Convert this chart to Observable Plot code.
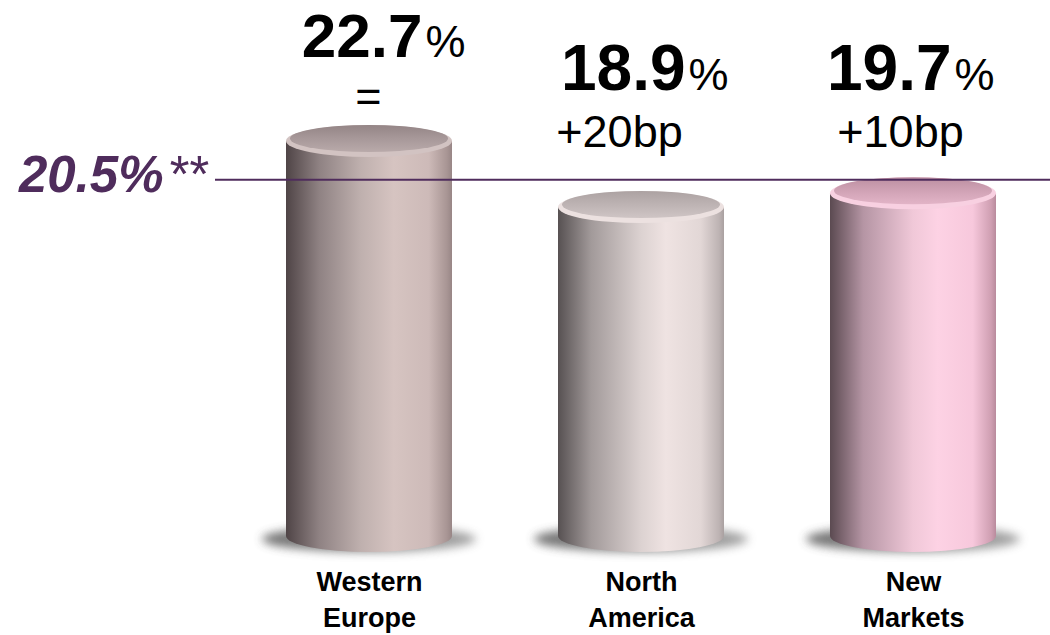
<!DOCTYPE html>
<html>
<head>
<meta charset="utf-8">
<script src="https://cdn.jsdelivr.net/npm/d3@7"></script>
<script src="https://cdn.jsdelivr.net/npm/@observablehq/plot@0.6"></script>
<style>
  html, body { margin: 0; padding: 0; background: #fff; }
  svg { font-family: Arial, "Liberation Sans", sans-serif; }
</style>
</head>
<body>
<div id="chart"></div>
<script>
// ---- data ----
const regions = ["Western Europe", "North America", "New Markets"];
const margins = [22.7, 18.9, 19.7];            // %
const changes = ["=", "+20bp", "+10bp"];
const refValue = 20.5;                          // group average, %
const refLabel = "20.5%";
const refNote = "**";

const data = regions.map((r, i) => ({region: r, value: margins[i], change: changes[i], idx: i}));

// ---- styling (not data) ----
const ids = ["gWE", "gNA", "gNM"];
const bodyStops = [
  [["0%", "#4f4446"], ["20%", "#8f8283"], ["45%", "#bfb0ae"], ["65%", "#d6c4c1"], ["86%", "#cdbab8"], ["97%", "#a89594"], ["100%", "#988686"]],
  [["0%", "#575152"], ["20%", "#a29a9a"], ["50%", "#dcd2d1"], ["65%", "#efe3e2"], ["86%", "#e2d7d6"], ["97%", "#bdb3b3"], ["100%", "#a9a0a0"]],
  [["0%", "#5b4a51"], ["20%", "#b595a4"], ["50%", "#f0c8d8"], ["65%", "#fdd2e4"], ["86%", "#f7c8dc"], ["97%", "#cf9fb2"], ["100%", "#b98b9d"]]
];
const capStops = [
  [["0%", "#948586"], ["55%", "#a99a9b"], ["100%", "#b9aaaa"]],
  [["0%", "#aca2a2"], ["55%", "#bfb5b5"], ["100%", "#cfc5c5"]],
  [["0%", "#bb8fa1"], ["55%", "#d2a4b7"], ["100%", "#e2b4c7"]]
];
const rimColors = ["#d2c3c2", "#ece1e0", "#f8d0e1"];
const numDx = [53, 44, 38];
const subDx = [-1, -22, -13];
const numY = [56, 89, 89];
const numSize = [62, 64, 64];
const subY = [110, 146, 146];
const purple = "#4f2c5c";
const RY = 16;

function bandInfo(scales, dimensions) {
  const x = scales.x;
  let bw = x.bandwidth;
  if (typeof bw === "function") bw = bw();
  if (!(bw > 0)) {
    const n = regions.length;
    const w = dimensions.width - dimensions.marginLeft - dimensions.marginRight;
    bw = w / (n - 0.39) * 0.61;
  }
  return {x, bw};
}

// shadows + gradient definitions
const shadowMark = (index, scales, values, dimensions) => {
  const {x, bw} = bandInfo(scales, dimensions);
  const y = scales.y;
  const g = d3.create("svg:g");
  const defs = g.append("defs");
  const f = defs.append("filter").attr("id", "blur").attr("x", "-30%").attr("y", "-100%").attr("width", "160%").attr("height", "300%");
  f.append("feGaussianBlur").attr("stdDeviation", 5);
  const sg = defs.append("linearGradient").attr("id", "shade").attr("x1", 0).attr("x2", 1).attr("y1", 0).attr("y2", 0);
  [["0%", "#444"], ["50%", "#666"], ["100%", "#888"]].forEach(([o, c]) => sg.append("stop").attr("offset", o).attr("stop-color", c));
  ids.forEach((id, i) => {
    const lg = defs.append("linearGradient").attr("id", id).attr("x1", 0).attr("x2", 1).attr("y1", 0).attr("y2", 0);
    bodyStops[i].forEach(([o, c]) => lg.append("stop").attr("offset", o).attr("stop-color", c));
    const cg = defs.append("linearGradient").attr("id", id + "cap").attr("x1", 0).attr("x2", 0).attr("y1", 0).attr("y2", 1);
    capStops[i].forEach(([o, c]) => cg.append("stop").attr("offset", o).attr("stop-color", c));
  });
  data.forEach(d => {
    const cx = x(d.region) + bw / 2;
    g.append("ellipse")
      .attr("cx", cx).attr("cy", y(0) + 3)
      .attr("rx", bw / 2 + 24).attr("ry", 13)
      .attr("fill", "url(#shade)").attr("opacity", 0.75)
      .attr("filter", "url(#blur)");
  });
  return g.node();
};

// rounded bottom of each cylinder
const bottomMark = (index, scales, values, dimensions) => {
  const {x, bw} = bandInfo(scales, dimensions);
  const y = scales.y;
  const g = d3.create("svg:g");
  data.forEach(d => {
    g.append("ellipse")
      .attr("cx", x(d.region) + bw / 2).attr("cy", y(0))
      .attr("rx", bw / 2).attr("ry", RY)
      .attr("fill", `url(#${ids[d.idx]})`);
  });
  return g.node();
};

// top caps
const capMark = (index, scales, values, dimensions) => {
  const {x, bw} = bandInfo(scales, dimensions);
  const y = scales.y;
  const g = d3.create("svg:g");
  data.forEach(d => {
    const cx = x(d.region) + bw / 2, cy = y(d.value);
    g.append("ellipse").attr("cx", cx).attr("cy", cy)
      .attr("rx", bw / 2).attr("ry", RY).attr("fill", rimColors[d.idx]);
    g.append("ellipse").attr("cx", cx).attr("cy", cy - 2.5)
      .attr("rx", bw / 2 - 4).attr("ry", RY - 2.5).attr("fill", `url(#${ids[d.idx]}cap)`);
  });
  return g.node();
};

const fontFam = "Arial, 'Liberation Sans', sans-serif";
const marks = [
  shadowMark,
  bottomMark,
  ...data.map(d => Plot.barY([d], {x: "region", y: "value", fill: `url(#${ids[d.idx]})`})),
  capMark,
  Plot.ruleY([refValue], {stroke: purple, strokeWidth: 2, insetLeft: -71, insetRight: -54}),
  Plot.text([refValue], {y: d => d, text: () => refLabel, frameAnchor: "left", textAnchor: "end", dx: -123, dy: -4,
    fill: purple, fontSize: 51, fontWeight: "bold", fontStyle: "italic", fontFamily: fontFam}),
  Plot.text([refValue], {y: d => d, text: () => refNote, frameAnchor: "left", textAnchor: "start", dx: -119, dy: -4,
    fill: purple, fontSize: 51, fontStyle: "italic", fontFamily: fontFam}),
  ...data.map(d => Plot.text([d], {x: "region", text: r => r.value.toFixed(1), frameAnchor: "top", lineAnchor: "bottom",
    dy: numY[d.idx], dx: numDx[d.idx], textAnchor: "end", fill: "#000", fontSize: numSize[d.idx], fontWeight: "bold", fontFamily: fontFam})),
  ...data.map(d => Plot.text([d], {x: "region", text: () => "%", frameAnchor: "top", lineAnchor: "bottom",
    dy: numY[d.idx], dx: numDx[d.idx] + 3, textAnchor: "start", fill: "#000", fontSize: 45, fontFamily: fontFam})),
  ...data.map(d => Plot.text([d], {x: "region", text: "change", frameAnchor: "top", lineAnchor: "bottom",
    dy: subY[d.idx], dx: subDx[d.idx], textAnchor: "middle", fill: "#000", fontSize: 45, fontFamily: fontFam})),
  Plot.text(data, {x: "region", text: d => d.region.replace(" ", "\n"), frameAnchor: "bottom", lineAnchor: "top",
    dy: 29, lineHeight: 1.33, fill: "#000", fontSize: 27, fontWeight: "bold", fontFamily: fontFam})
];

const chart = Plot.plot({
  width: 1050,
  height: 635,
  marginLeft: 286,
  marginRight: 54,
  marginTop: 0,
  marginBottom: 99,
  style: {background: "#fff", overflow: "visible"},
  x: {domain: regions, paddingInner: 0.39, paddingOuter: 0, axis: null},
  y: {domain: [0, 30.8], axis: null},
  marks
});
document.getElementById("chart").appendChild(chart);
</script>
</body>
</html>
